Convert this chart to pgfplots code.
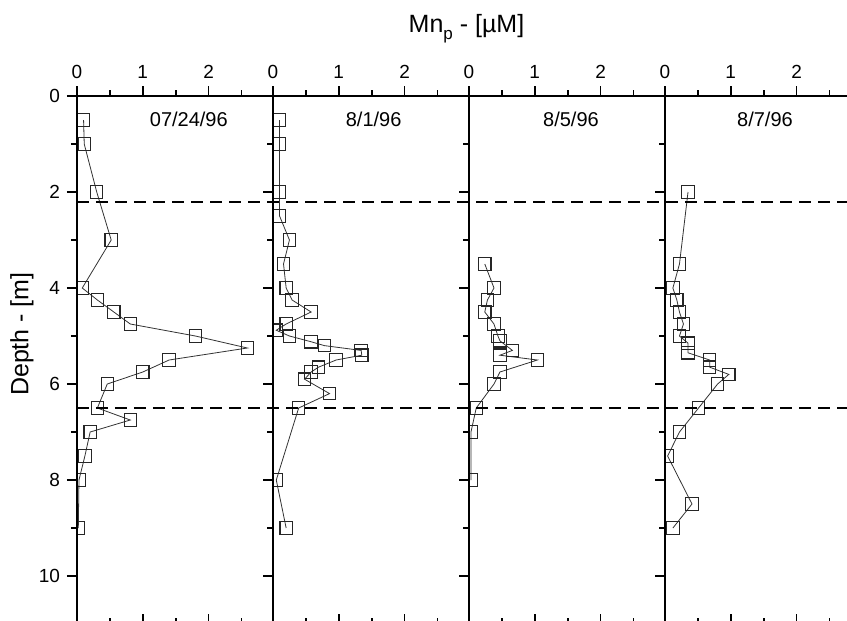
\documentclass[border=0pt]{standalone}
\usepackage{fontspec}
\setmainfont{Liberation Sans}
\usepackage{pgfplots}
\usepackage{pgfplotstable}
\pgfplotsset{compat=1.18}

% Mn_p profiles, x = Mn_p [uM], y = depth [m]
\pgfplotstableread{
x y
0.10 0.5
0.11 1.0
0.30 2.0
0.52 3.0
0.08 4.0
0.31 4.25
0.56 4.5
0.81 4.75
1.80 5.0
2.59 5.25
1.40 5.5
1.00 5.75
0.46 6.0
0.31 6.5
0.81 6.75
0.20 7.0
0.12 7.5
0.03 8.0
0.02 9.0
}\tabA

\pgfplotstableread{
x y
0.10 0.5
0.10 1.0
0.10 2.0
0.10 2.5
0.25 3.0
0.16 3.5
0.20 4.0
0.29 4.25
0.58 4.5
0.20 4.75
0.05 4.88
0.25 5.0
0.58 5.12
0.78 5.2
1.34 5.3
1.35 5.4
0.96 5.5
0.69 5.65
0.58 5.75
0.48 5.9
0.86 6.2
0.39 6.5
0.05 8.0
0.20 9.0
}\tabB

\pgfplotstableread{
x y
0.24 3.5
0.38 4.0
0.28 4.25
0.24 4.5
0.38 4.75
0.44 5.0
0.47 5.1
0.66 5.3
0.47 5.4
1.04 5.5
0.47 5.75
0.38 6.0
0.11 6.5
0.03 7.0
0.03 8.0
}\tabC

\pgfplotstableread{
x y
0.35 2.0
0.22 3.5
0.12 4.0
0.18 4.25
0.22 4.5
0.28 4.75
0.22 5.0
0.35 5.15
0.35 5.35
0.68 5.5
0.68 5.65
0.97 5.8
0.80 6.0
0.51 6.5
0.22 7.0
0.04 7.5
0.41 8.5
0.12 9.0
}\tabD

\pgfplotsset{
  geom/.style={
    scale only axis, width=98pt, height=264pt,
    xmin=0, xmax=2.98, ymin=0, ymax=11, y dir=reverse,
    xtick={0,1,2}, minor xtick={0.5,1.5,2.5},
    major tick length=5pt, minor tick length=3pt,
    every tick/.style={black, line width=0.9pt},
  },
  panel/.style={
    geom,
    axis line style={line width=1pt},
    ytick={0,2,...,10}, minor ytick={1,3,...,9},
    xtick pos=right, ytick pos=left,
    tick align=outside,
    tick label style={font=\fontsize{9.5}{11}\selectfont},
    /pgf/number format/assume math mode=true,
    clip marker paths=true,
  },
  botticks/.style={
    geom,
    axis line style={line width=1pt},
    xtick pos=left, xticklabels={},
    ytick=\empty, tick align=inside,
  },
  prof/.style={black!80, line width=0.4pt, mark=square, mark size=3.1pt,
    mark options={solid, black!85, line width=0.55pt}},
}
\tikzset{ttl/.style={font=\fontsize{10}{12}\selectfont}}

\begin{document}
\begin{tikzpicture}
\begin{axis}[panel, at={(0pt,0pt)}, anchor=north west]
  \addplot[prof] table {\tabA};
  \node[ttl] at (axis cs:1.70,0.49) {07/24/96};
\end{axis}
\begin{axis}[botticks, at={(0pt,0pt)}, anchor=north west]
\end{axis}

\begin{axis}[panel, yticklabels={}, at={(98pt,0pt)}, anchor=north west]
  \addplot[prof] table {\tabB};
  \node[ttl] at (axis cs:1.53,0.49) {8/1/96};
\end{axis}
\begin{axis}[botticks, at={(98pt,0pt)}, anchor=north west]
\end{axis}

\begin{axis}[panel, yticklabels={}, at={(196pt,0pt)}, anchor=north west]
  \addplot[prof] table {\tabC};
  \node[ttl] at (axis cs:1.55,0.49) {8/5/96};
\end{axis}
\begin{axis}[botticks, at={(196pt,0pt)}, anchor=north west]
\end{axis}

\begin{axis}[panel, yticklabels={}, at={(294pt,0pt)}, anchor=north west]
  \addplot[prof] table {\tabD};
  \node[ttl] at (axis cs:1.52,0.49) {8/7/96};
\end{axis}
\begin{axis}[botticks, at={(294pt,0pt)}, anchor=north west]
\end{axis}

% overlay: dashed reference depths and the shared axis labels
\begin{axis}[scale only axis, width=392pt, height=264pt,
  xmin=0, xmax=392, ymin=0, ymax=11, y dir=reverse,
  hide axis, clip=false, at={(0pt,0pt)}, anchor=north west]
  \addplot[black, line width=1.1pt, dash pattern=on 6pt off 3.5pt] coordinates {(0,2.2) (392,2.2)};
  \addplot[black, line width=1.1pt, dash pattern=on 6pt off 3.5pt] coordinates {(0,6.5) (392,6.5)};
  \node[anchor=base, font=\fontsize{12.5}{14}\selectfont] at (axis cs:194.75,-1.333)
    {Mn\raisebox{-0.55ex}{\fontsize{8.5}{9}\selectfont p} - [µM]};
  \node[rotate=90, font=\fontsize{12.5}{14}\selectfont] at (axis cs:-27.5,4.96) {Depth - [m]};
\end{axis}

\pgfresetboundingbox
\useasboundingbox (-38.5pt,-262.5pt) rectangle (385pt,48pt);
\end{tikzpicture}
\end{document}
